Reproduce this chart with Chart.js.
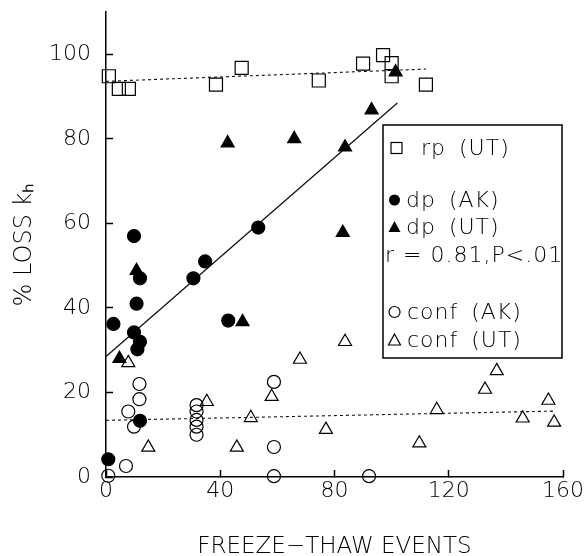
<!DOCTYPE html>
<html>
<head>
<meta charset="utf-8">
<script src="https://cdn.jsdelivr.net/npm/chart.js@4/dist/chart.umd.min.js"></script>
<style>
  html, body { margin: 0; padding: 0; background: #fff; }
  #wrap { width: 587px; height: 556px; }
</style>
</head>
<body>
<div id="wrap"><canvas id="lossChart"></canvas></div>
<script>
// values
const rpX = [1, 4.5, 8, 38.5, 47.5, 74.5, 90, 97, 100, 100, 112];
const rpY = [94.8, 91.8, 91.8, 92.8, 96.8, 93.8, 97.8, 99.8, 97.9, 94.8, 92.8];

const dpAkX = [0.8, 2.6, 9.8, 9.8, 10.7, 11, 11.9, 11.9, 11.9, 30.6, 34.7, 42.8, 53.3];
const dpAkY = [4.2, 36.2, 57, 34.2, 41, 30.2, 47, 32, 13.3, 47, 51, 37, 59];

const dpUtX = [4.7, 10.7, 42.6, 47.8, 65.9, 82.9, 83.7, 93, 101.4];
const dpUtY = [28, 48.8, 79, 36.7, 80, 57.8, 78, 86.8, 95.8];

const confAkX = [0.8, 7, 7.8, 9.8, 11.7, 11.7, 31.7, 31.7, 31.7, 31.7, 31.7, 58.8, 58.8, 58.8, 92.1];
const confAkY = [0.3, 2.6, 15.5, 11.9, 18.4, 22, 17, 15.5, 13.5, 11.9, 10, 22.5, 7.1, 0.2, 0.2];

const confUtX = [7.8, 14.8, 35.3, 45.8, 50.7, 58, 67.9, 77, 83.7, 109.7, 115.8, 132.7, 136.8, 145.9, 154.9, 156.9];
const confUtY = [27, 7, 17.8, 7, 14, 19, 27.8, 11.2, 32, 8, 15.9, 20.7, 25.1, 13.9, 18.1, 12.9];

// fitted lines (end points as drawn)
const rpFitX = [0, 112], rpFitY = [93.6, 96.5];
const dpFitX = [0, 102], dpFitY = [28.5, 88.5];
const confFitX = [0, 157], confFitY = [13.4, 15.6];

const xTicks = [0, 40, 80, 120, 160];
const yTicks = [0, 20, 40, 60, 80, 100];

const legendRows = ['rp (UT)', 'dp (AK)', 'dp (UT)', 'r = 0.81,P<.01', 'conf (AK)', 'conf (UT)'];

const FONT = "'DejaVu Sans', sans-serif";
const WEIGHT = 200;

function pts(xs, ys) {
    return xs.map((x, i) => ({ x: x, y: ys[i] }));
}

function marks(label, xs, ys, style, filled, r) {
    return {
        type: 'scatter',
        label: label,
        data: pts(xs, ys),
        pointStyle: style,
        pointRadius: r,
        pointBorderWidth: 1.2,
        pointBorderColor: '#000',
        pointBackgroundColor: filled ? '#000' : 'rgba(0,0,0,0)',
        clip: false
    };
}

function fit(xs, ys, dash) {
    return {
        type: 'line',
        data: pts(xs, ys),
        borderColor: '#111',
        borderWidth: dash ? 1.1 : 1.3,
        borderDash: dash || [],
        pointRadius: 0,
        fill: false,
        clip: false
    };
}

// legend box drawn by hand (extra r = line and gap in it)
const legendBox = {
    id: 'legendBox',
    afterDraw(chart) {
        const ctx = chart.ctx;
        ctx.save();
        ctx.strokeStyle = '#000';
        ctx.lineWidth = 1.5;
        ctx.strokeRect(383, 125, 179, 233);
        ctx.font = WEIGHT + ' 22px ' + FONT;
        ctx.letterSpacing = '1px';
        ctx.fillStyle = '#000';
        ctx.textBaseline = 'middle';
        ctx.textAlign = 'left';
        const rows = [
            [148, 421, 'rect'],
            [200, 406, 'circleF'],
            [227, 406, 'triF'],
            [255, 385, null],
            [312, 407, 'circle'],
            [340, 407, 'tri']
        ];
        rows.forEach((r, i) => {
            const y = r[0];
            ctx.wordSpacing = r[2] ? '5px' : '0px';
            ctx.fillText(legendRows[i], r[1], y + 1);
            ctx.lineWidth = 1.2;
            if (r[2] === 'rect') {
                ctx.strokeRect(391, y - 5.5, 11, 11);
            } else if (r[2] === 'circleF' || r[2] === 'circle') {
                ctx.beginPath();
                ctx.arc(394.5, y, 5.5, 0, Math.PI * 2);
                if (r[2] === 'circleF') ctx.fill(); else ctx.stroke();
            } else if (r[2] === 'triF' || r[2] === 'tri') {
                ctx.beginPath();
                ctx.moveTo(394.5, y - 6);
                ctx.lineTo(400.5, y + 5);
                ctx.lineTo(388.5, y + 5);
                ctx.closePath();
                if (r[2] === 'triF') ctx.fill(); else ctx.stroke();
            }
        });
        ctx.restore();
    }
};

const config = {
    data: {
        datasets: [
            marks('rp (UT)', rpX, rpY, 'rect', false, 9.2),
            marks('dp (AK)', dpAkX, dpAkY, 'circle', true, 6.5),
            marks('dp (UT)', dpUtX, dpUtY, 'triangle', true, 7.5),
            marks('conf (AK)', confAkX, confAkY, 'circle', false, 6.5),
            marks('conf (UT)', confUtX, confUtY, 'triangle', false, 7.5),
            fit(rpFitX, rpFitY, [3, 3]),
            fit(dpFitX, dpFitY, null),
            fit(confFitX, confFitY, [3, 3])
        ]
    },
    options: {
        responsive: true,
        maintainAspectRatio: false,
        animation: false,
        layout: { padding: { left: 0, right: 24, top: 12, bottom: 0 } },
        plugins: {
            legend: { display: false },
            tooltip: { enabled: false }
        },
        scales: {
            x: {
                type: 'linear',
                min: 0,
                max: 160,
                afterBuildTicks: s => { s.ticks = xTicks.map(v => ({ value: v })); },
                afterFit: s => {
                    s.height = 79;
                    s.paddingLeft = 0; s.paddingRight = 0;
                },
                ticks: { color: '#000', font: { family: FONT, size: 22, weight: WEIGHT }, padding: 8, maxRotation: 0 },
                grid: { drawOnChartArea: false, tickLength: -7, color: '#000', tickWidth: 1.5 },
                border: { color: '#000', width: 1.5 },
                title: {
                    display: true,
                    text: 'FREEZE\u2212THAW EVENTS',
                    color: '#000',
                    font: { family: FONT, size: 23, weight: WEIGHT },
                    padding: { top: 0, bottom: -5 }
                }
            },
            y: {
                type: 'linear',
                min: 0,
                max: 110,
                afterBuildTicks: s => { s.ticks = yTicks.map(v => ({ value: v })); },
                afterFit: s => {
                    s.width = 106;
                    s.paddingTop = 0; s.paddingBottom = 0;
                },
                ticks: { color: '#000', font: { family: FONT, size: 22, weight: WEIGHT }, padding: 22 },
                grid: { drawOnChartArea: false, tickLength: -7, color: '#000', tickWidth: 1.5 },
                border: { color: '#000', width: 1.5 },
                title: {
                    display: true,
                    text: '% LOSS k\u2095',
                    color: '#000',
                    font: { family: FONT, size: 24, weight: WEIGHT },
                    padding: { top: 10, bottom: 0 }
                }
            }
        }
    },
    plugins: [legendBox]
};

const lossChart = new Chart(document.getElementById('lossChart'), config);
</script>
</body>
</html>
